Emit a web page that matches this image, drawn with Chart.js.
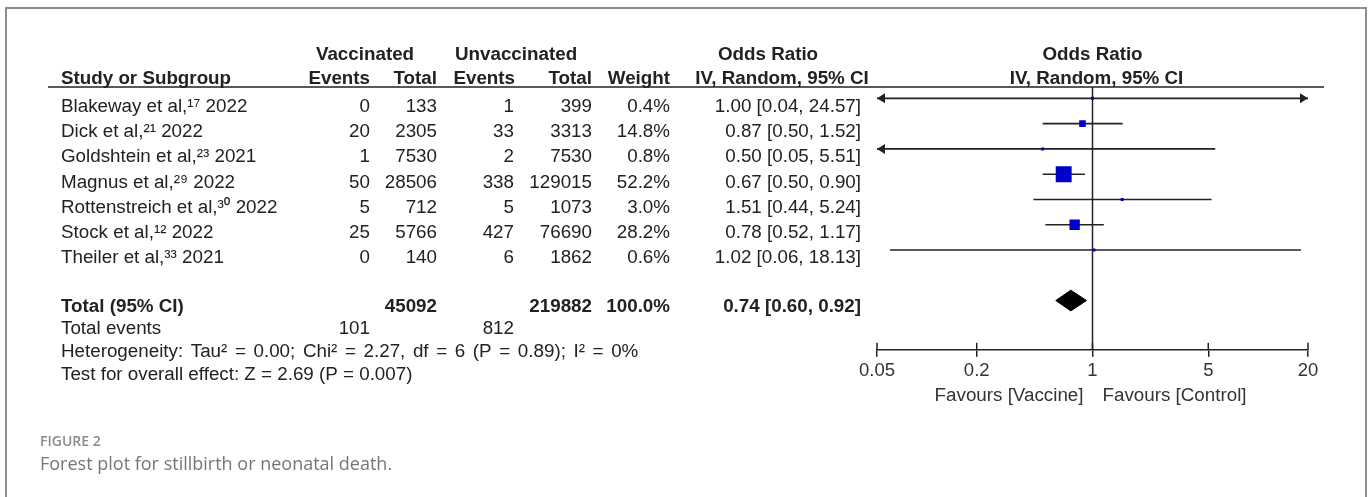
<!DOCTYPE html>
<html>
<head>
<meta charset="utf-8">
<title>Forest plot</title>
<script src="https://cdn.jsdelivr.net/npm/chart.js@4.4.0/dist/chart.umd.min.js"></script>
<style>
  html, body { margin: 0; padding: 0; background: #fff; }
  #wrap { position: relative; width: 1371px; height: 497px; overflow: hidden; }
  #forest { position: absolute; left: 0; top: 0; }
  #frame {
    position: absolute; left: 5px; top: 7px; width: 1362px; height: 500px;
    border: 2px solid #8e8e8e; border-bottom: none; box-sizing: border-box;
    pointer-events: none;
  }
</style>
</head>
<body>
<div id="wrap">
  <canvas id="forest" width="1371" height="497"></canvas>
  <div id="frame"></div>
</div>
<script>
// study data
const studies = [
  'Blakeway et al,¹⁷ 2022',
  'Dick et al,²¹ 2022',
  'Goldshtein et al,²³ 2021',
  'Magnus et al,²⁹ 2022',
  'Rottenstreich et al,³⁰ 2022',
  'Stock et al,¹² 2022',
  'Theiler et al,³³ 2021'
];
const vaccEvents = [0, 20, 1, 50, 5, 25, 0];
const vaccTotal = [133, 2305, 7530, 28506, 712, 5766, 140];
const unvaccEvents = [1, 33, 2, 338, 5, 427, 6];
const unvaccTotal = [399, 3313, 7530, 129015, 1073, 76690, 1862];
const weights = [0.4, 14.8, 0.8, 52.2, 3.0, 28.2, 0.6];
const oddsRatio = [1.00, 0.87, 0.50, 0.67, 1.51, 0.78, 1.02];
const ciLower = [0.04, 0.50, 0.05, 0.50, 0.44, 0.52, 0.06];
const ciUpper = [24.57, 1.52, 5.51, 0.90, 5.24, 1.17, 18.13];

// pooled result
const totalVacc = 45092;
const totalUnvacc = 219882;
const totalWeight = 100.0;
const eventsVacc = 101;
const eventsUnvacc = 812;
const pooled = [0.74, 0.60, 0.92]; // OR, lower, upper

const heterogeneity = 'Heterogeneity: Tau² = 0.00; Chi² = 2.27, df = 6 (P = 0.89); I² = 0%';
const overallTest = 'Test for overall effect: Z = 2.69 (P = 0.007)';

const xTicks = [0.05, 0.2, 1, 5, 20];

// layout bits
const INK = '#222';
const FONT = "'Liberation Sans', 'Noto Sans', Arial, sans-serif";
const FS = '18.8px ';
const X_MIN = 0.05, X_MAX = 20;
const Y_MIN = 0.55, Y_MAX = 10.95;
const TOTAL_ROW = 9;
const DIAMOND_HALF = 0.41;
const COL = { name: 61, vEv: 370, vTot: 437, uEv: 514, uTot: 592, weight: 670, or: 861 };

const fmtCI = (o, l, u) => `${o.toFixed(2)} [${l.toFixed(2)}, ${u.toFixed(2)}]`;
const rowOf = (i) => i + 1;

// datasets
const datasets = [];

datasets.push({
  label: 'Studies',
  data: oddsRatio.map((v, i) => ({ x: v, y: rowOf(i) })),
  pointStyle: 'rect',
  pointRadius: weights.map(w => Math.max(3, Math.pow(w, 0.7)) / Math.SQRT2),
  backgroundColor: '#0000cc',
  borderWidth: 0,
  order: 0
});

studies.forEach((s, i) => {
  datasets.push({
    label: s,
    data: [{ x: ciLower[i], y: rowOf(i) }, { x: ciUpper[i], y: rowOf(i) }],
    showLine: true,
    borderColor: INK,
    borderWidth: 1.6,
    pointRadius: 0,
    order: 1
  });
});

datasets.push({
  label: 'Total',
  data: [
    { x: pooled[1], y: TOTAL_ROW },
    { x: pooled[0], y: TOTAL_ROW - DIAMOND_HALF },
    { x: pooled[2], y: TOTAL_ROW },
    { x: pooled[0], y: TOTAL_ROW + DIAMOND_HALF },
    { x: pooled[1], y: TOTAL_ROW }
  ],
  showLine: true,
  fill: 'shape',
  backgroundColor: '#000',
  borderColor: '#000',
  borderWidth: 1,
  pointRadius: 0,
  order: 1
});

datasets.push({
  label: 'No effect',
  data: [{ x: 1, y: Y_MIN }, { x: 1, y: Y_MAX }],
  showLine: true,
  borderColor: INK,
  borderWidth: 1.5,
  pointRadius: 0,
  order: 2
});

// table, arrows and captions around the plot
const tablePlugin = {
  id: 'forestTable',
  afterDraw(chart) {
    const ctx = chart.ctx;
    const xs = chart.scales.x, ys = chart.scales.y;
    const area = chart.chartArea;

    const txt = (s, x, y, align, bold) => {
      ctx.font = (bold ? 'bold ' : '') + FS + FONT;
      ctx.textAlign = align;
      ctx.textBaseline = 'alphabetic';
      ctx.fillStyle = INK;
      ctx.fillText(s, x, y);
    };
    const seg = (x1, y1, x2, y2, w) => {
      ctx.beginPath();
      ctx.moveTo(x1, y1);
      ctx.lineTo(x2, y2);
      ctx.lineWidth = w;
      ctx.strokeStyle = INK;
      ctx.stroke();
    };
    const arrow = (tipX, y, dir) => {
      ctx.beginPath();
      ctx.moveTo(tipX, y);
      ctx.lineTo(tipX - dir * 8, y - 5);
      ctx.lineTo(tipX - dir * 8, y + 5);
      ctx.closePath();
      ctx.fillStyle = INK;
      ctx.fill();
    };

    ctx.save();

    // headers
    txt('Vaccinated', 365, 60, 'center', true);
    txt('Unvaccinated', 455, 60, 'left', true);
    txt('Odds Ratio', 768, 60, 'center', true);
    txt('Odds Ratio', xs.getPixelForValue(1), 60, 'center', true);
    txt('Study or Subgroup', COL.name, 84, 'left', true);
    txt('Events', COL.vEv, 84, 'right', true);
    txt('Total', COL.vTot, 84, 'right', true);
    txt('Events', COL.uEv + 1, 84, 'right', true);
    txt('Total', COL.uTot, 84, 'right', true);
    txt('Weight', COL.weight, 84, 'right', true);
    txt('IV, Random, 95% CI', 782, 84, 'center', true);
    txt('IV, Random, 95% CI', xs.getPixelForValue(1) + 4, 84, 'center', true);
    seg(48, area.top, 1324, area.top, 1.5);

    // study rows
    studies.forEach((s, i) => {
      const py = ys.getPixelForValue(rowOf(i));
      const by = py + 13.5;
      txt(s, COL.name, by, 'left');
      txt(String(vaccEvents[i]), COL.vEv, by, 'right');
      txt(String(vaccTotal[i]), COL.vTot, by, 'right');
      txt(String(unvaccEvents[i]), COL.uEv, by, 'right');
      txt(String(unvaccTotal[i]), COL.uTot, by, 'right');
      txt(weights[i].toFixed(1) + '%', COL.weight, by, 'right');
      txt(fmtCI(oddsRatio[i], ciLower[i], ciUpper[i]), COL.or, by, 'right');
      if (ciLower[i] <= X_MIN) arrow(area.left, py, -1);
      if (ciUpper[i] >= X_MAX) arrow(area.right, py, 1);
    });

    // pooled rows
    const ty = ys.getPixelForValue(TOTAL_ROW) + 11;
    txt('Total (95% CI)', COL.name, ty, 'left', true);
    txt(String(totalVacc), COL.vTot, ty, 'right', true);
    txt(String(totalUnvacc), COL.uTot, ty, 'right', true);
    txt(totalWeight.toFixed(1) + '%', COL.weight, ty, 'right', true);
    txt(fmtCI(pooled[0], pooled[1], pooled[2]), COL.or, ty, 'right', true);
    txt('Total events', COL.name, ty + 22, 'left');
    txt(String(eventsVacc), COL.vEv, ty + 22, 'right');
    txt(String(eventsUnvacc), COL.uEv, ty + 22, 'right');
    // the heterogeneity line is set with wider spaces in the original
    ctx.save();
    ctx.wordSpacing = '2.4px';
    txt(heterogeneity, COL.name, ty + 45, 'left');
    ctx.restore();
    txt(overallTest, COL.name, ty + 68, 'left');

    // upper half of the axis ticks
    xs.ticks.forEach(t => {
      const px = xs.getPixelForValue(t.value);
      seg(px, area.bottom - 7, px, area.bottom, 1.5);
    });

    // favours labels
    const one = xs.getPixelForValue(1);
    ctx.font = FS + FONT;
    ctx.fillStyle = '#333';
    ctx.textBaseline = 'alphabetic';
    ctx.textAlign = 'right';
    ctx.fillText('Favours [Vaccine]', one - 9, area.bottom + 51);
    ctx.textAlign = 'left';
    ctx.fillText('Favours [Control]', one + 10, area.bottom + 51);

    // figure caption
    ctx.textAlign = 'left';
    ctx.fillStyle = '#8a8a8a';
    ctx.font = "600 14px 'Open Sans', sans-serif";
    ctx.fillText('FIGURE 2', 40, 446);
    ctx.fillStyle = '#767676';
    ctx.font = "18px 'Open Sans', sans-serif";
    ctx.fillText('Forest plot for stillbirth or neonatal death.', 40, 470);

    ctx.restore();
  }
};

const ctx = document.getElementById('forest').getContext('2d');
const forestChart = new Chart(ctx, {
  type: 'scatter',
  data: { datasets: datasets },
  options: {
    responsive: false,
    animation: false,
    layout: { padding: { left: 877, right: 63, top: 87, bottom: 112 } },
    plugins: {
      legend: { display: false },
      tooltip: { enabled: false }
    },
    scales: {
      x: {
        type: 'logarithmic',
        min: X_MIN,
        max: X_MAX,
        afterBuildTicks: (scale) => { scale.ticks = xTicks.map(v => ({ value: v })); },
        ticks: {
          callback: (v) => String(v),
          color: '#333',
          font: { family: FONT, size: 18.5 },
          padding: 3,
          maxRotation: 0,
          autoSkip: false
        },
        grid: {
          drawOnChartArea: false,
          drawTicks: true,
          tickLength: 7,
          color: INK,
          lineWidth: 1.5
        },
        border: { display: true, color: INK, width: 1.5 }
      },
      y: {
        type: 'linear',
        display: false,
        reverse: true,
        min: Y_MIN,
        max: Y_MAX
      }
    }
  },
  plugins: [tablePlugin]
});
</script>
</body>
</html>
